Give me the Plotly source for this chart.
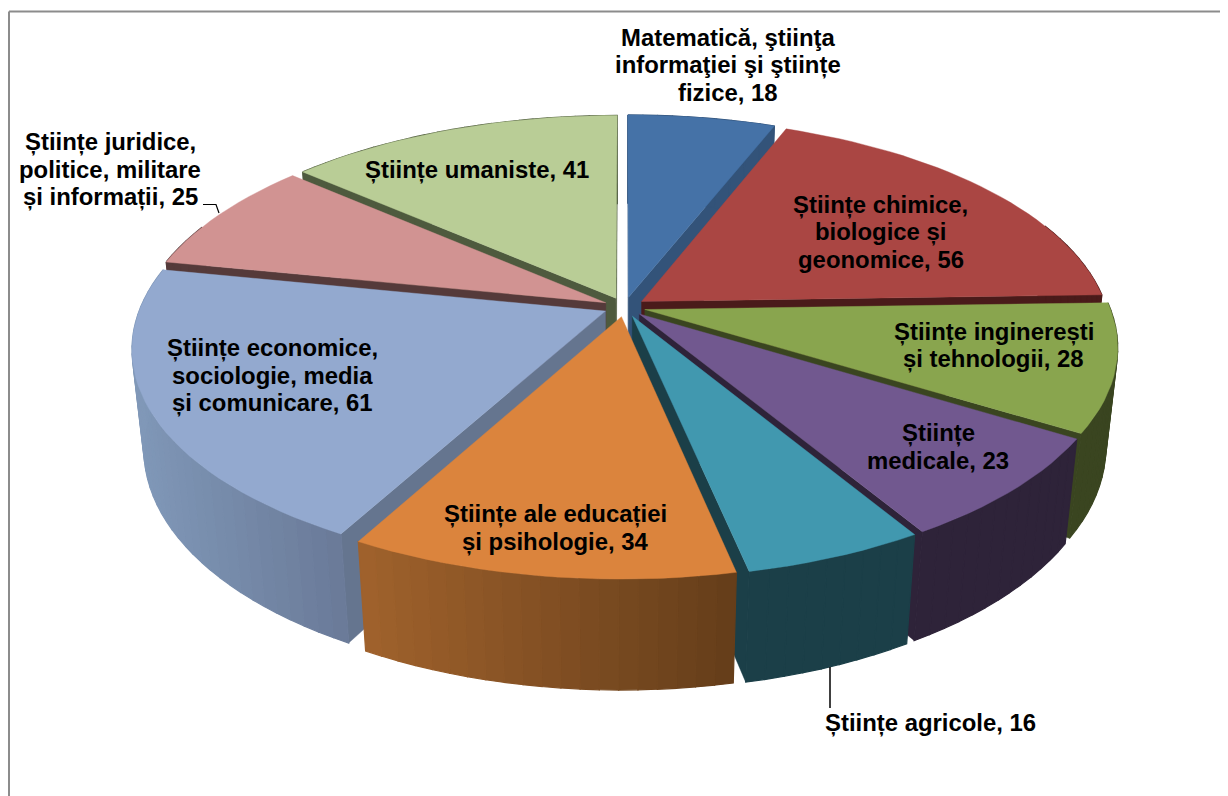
import math
import plotly.graph_objects as go

categories = ["Matematică, ştiinţa informaţiei şi ştiinţe fizice", "Ştiinţe chimice, biologice şi geonomice",
              "Ştiinţe inginereşti şi tehnologii", "Ştiinţe medicale", "Ştiinţe agricole",
              "Ştiinţe ale educaţiei şi psihologie", "Ştiinţe economice, sociologie, media şi comunicare",
              "Ştiinţe juridice, politice, militare şi informaţii", "Ştiinţe umaniste"]
values = [18, 56, 28, 23, 16, 34, 61, 25, 41]
top_colors = ["#4572A7", "#AA4643", "#89A54E", "#71588F", "#4198AF", "#DB843D", "#93A9CF", "#D19392", "#B9CD96"]
cut_colors = ["#335379", "#4A1B1A", "#3A4520", "#2E2339", "#1B3F48", "#643D1A", "#65758F", "#553A3A", "#4E5A3E"]
wall_left = ["#335379", "#4A1B1A", "#3A4520", "#2E2339", "#1B3F48", "#A0622C", "#8098B8", "#553A3A", "#4E5A3E"]
wall_right = ["#335379", "#4A1B1A", "#3A4520", "#2E2339", "#1B3F48", "#643D1A", "#6A7A98", "#553A3A", "#4E5A3E"]
draw_order = [0, 8, 1, 7, 2, 6, 3, 4, 5]

label_texts = ["Matematică, ştiinţa<br>informaţiei şi ştiințe<br>fizice, 18",
               "Științe chimice,<br>biologice și<br>geonomice, 56",
               "Științe inginerești<br>și tehnologii, 28",
               "Științe<br>medicale, 23",
               "Științe agricole, 16",
               "Științe ale educației<br>și psihologie, 34",
               "Științe economice,<br>sociologie, media<br>și comunicare, 61",
               "Științe juridice,<br>politice, militare<br>și informații, 25",
               "Științe umaniste, 41"]
label_x = [727.5, 880.5, 993.5, 938, 930, 555, 272, 110, 477]
label_y = [65, 232, 345.5, 447, 723, 528, 375, 169.5, 170]
LINE_PITCH = 27.5

CX, CY = 624.5, 307
R, RV, K = 465, 215.6, 0.165
H, M = 101, 0.024
EXPLODE = 0.045


def project(u, v, d):
    f = 1 / (1 + K * v + M * d)
    return CX + R * u * f, CY + (-RV * v + H * d) * f


def poly(points, color, width=1.2):
    xs = [p[0] for p in points] + [points[0][0]]
    ys = [p[1] for p in points] + [points[0][1]]
    return go.Scatter(x=xs, y=ys, mode="lines", fill="toself", fillcolor=color,
                      line=dict(color=color, width=width), hoverinfo="skip", showlegend=False)


def mix(a, b, t):
    ca = [int(a[i:i + 2], 16) for i in (1, 3, 5)]
    cb = [int(b[i:i + 2], 16) for i in (1, 3, 5)]
    return "rgb(%d,%d,%d)" % tuple(round(x + (y - x) * t) for x, y in zip(ca, cb))


def area(points):
    s = 0
    for (a, b), (c, d) in zip(points, points[1:] + points[:1]):
        s += a * d - c * b
    return s / 2


total = sum(values)
cum = [0]
for val in values:
    cum.append(cum[-1] + val)

fig = go.Figure()
for i in draw_order:
    a0 = cum[i] / total * 2 * math.pi
    a1 = cum[i + 1] / total * 2 * math.pi
    am = (a0 + a1) / 2
    ox, oy = EXPLODE * math.sin(am), EXPLODE * math.cos(am)
    n = max(3, int((a1 - a0) / math.radians(2)))
    ang = [a0 + (a1 - a0) * j / n for j in range(n + 1)]
    rim = [(math.sin(a) + ox, math.cos(a) + oy) for a in ang]
    # cut faces, only the ones that look towards the viewer
    for pt, sign in ((rim[0], -1), (rim[-1], 1)):
        quad = [project(ox, oy, 0), project(pt[0], pt[1], 0), project(pt[0], pt[1], 1), project(ox, oy, 1)]
        if area(quad) * sign > 0:
            fig.add_trace(poly(quad, cut_colors[i], 0.4))
    # outer wall as shaded strips, left to right on the screen
    xs = [project(u, v, 0)[0] for u, v in rim]
    lo, hi = min(xs), max(xs)
    for j in range(n):
        if rim[j][1] - oy > 0.35 and rim[j + 1][1] - oy > 0.35 and i not in (0, 8):
            continue
        t = ((xs[j] + xs[j + 1]) / 2 - lo) / max(hi - lo, 1)
        quad = [project(*rim[j], 0), project(*rim[j + 1], 0), project(*rim[j + 1], 1), project(*rim[j], 1)]
        fig.add_trace(poly(quad, mix(wall_left[i], wall_right[i], t)))
    # top face
    fig.add_trace(poly([project(ox, oy, 0)] + [project(u, v, 0) for u, v in rim], top_colors[i], 0.4))

annotations = []
for text, x, y in zip(label_texts, label_x, label_y):
    lines = text.split("<br>")
    for k, line in enumerate(lines):
        annotations.append(dict(x=x, y=y + (k - (len(lines) - 1) / 2) * LINE_PITCH, text="<b>%s</b>" % line,
                                showarrow=False, xanchor="center", yanchor="middle", align="center",
                                font=dict(family="Liberation Sans", size=23.9, color="#000000")))

shapes = [
    dict(type="line", x0=9, y0=11.5, x1=9, y1=796, line=dict(color="#8C8C8C", width=2)),
    dict(type="line", x0=9, y0=11.5, x1=1228, y1=11.5, line=dict(color="#8C8C8C", width=2)),
    dict(type="path", path="M 203 204.5 L 216 204.5 L 219 213", line=dict(color="#000000", width=1.2)),
    dict(type="line", x0=830, y0=667, x1=830, y1=708, line=dict(color="#000000", width=1.5)),
]

# the page body keeps an 8 px margin, so the axes start at 8 and data units equal page pixels
fig.update_layout(
    width=1220, height=788, margin=dict(l=0, r=0, t=0, b=0),
    paper_bgcolor="white", plot_bgcolor="white", showlegend=False,
    xaxis=dict(range=[8, 1228], visible=False, fixedrange=True),
    yaxis=dict(range=[796, 8], visible=False, fixedrange=True),
    annotations=annotations, shapes=shapes,
)
fig.write_html("out.html", config={"displayModeBar": False})
